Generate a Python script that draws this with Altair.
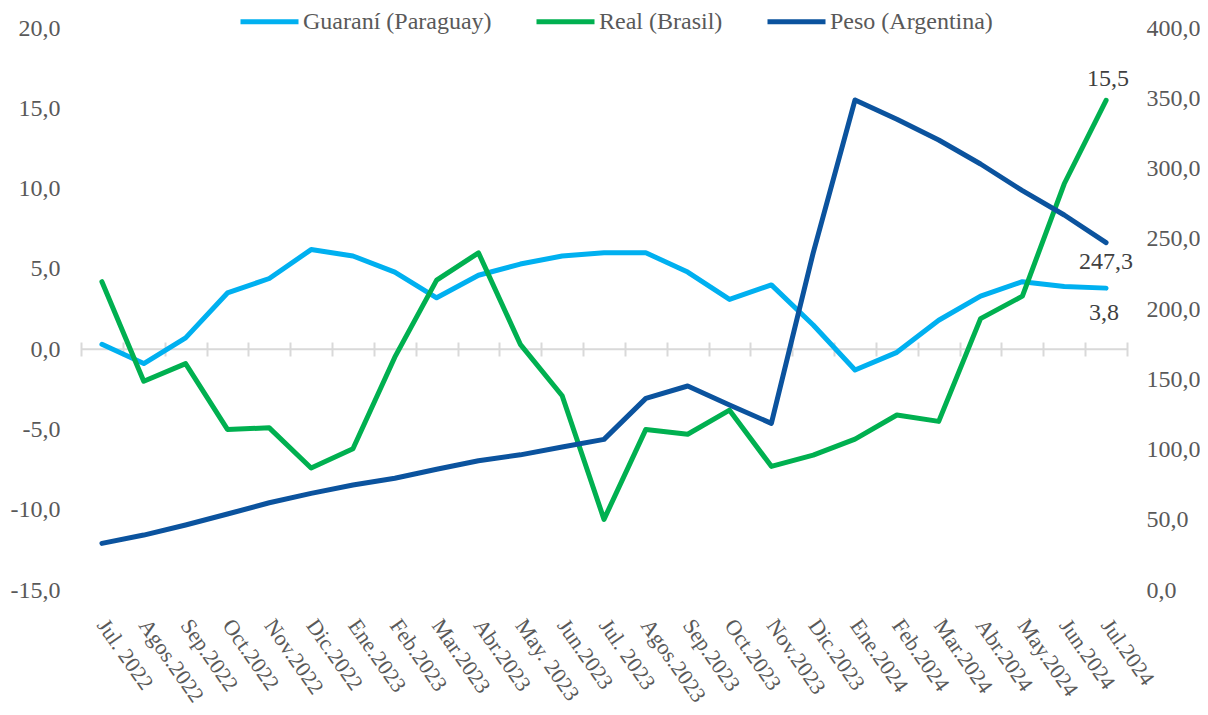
import altair as alt
import pandas as pd

months = ["Jul. 2022", "Agos.2022", "Sep.2022", "Oct.2022", "Nov.2022", "Dic.2022",
          "Ene.2023", "Feb.2023", "Mar.2023", "Abr.2023", "May. 2023", "Jun.2023",
          "Jul. 2023", "Agos.2023", "Sep.2023", "Oct.2023", "Nov.2023", "Dic.2023",
          "Ene.2024", "Feb.2024", "Mar.2024", "Abr.2024", "May.2024", "Jun.2024", "Jul.2024"]

guarani = [0.3, -0.9, 0.7, 3.5, 4.4, 6.2, 5.8, 4.8, 3.2, 4.6, 5.3, 5.8, 6.0, 6.0,
           4.8, 3.1, 4.0, 1.5, -1.3, -0.2, 1.8, 3.3, 4.2, 3.9, 3.8]
real = [4.2, -2.0, -0.9, -5.0, -4.9, -7.4, -6.2, -0.5, 4.3, 6.0, 0.3, -2.9, -10.6, -5.0,
        -5.3, -3.8, -7.3, -6.6, -5.6, -4.1, -4.5, 1.9, 3.3, 10.3, 15.5]
peso = [33.2, 39.1, 46.3, 54.1, 62.1, 68.8, 74.7, 79.5, 85.9, 92.0, 96.2, 101.8, 107.2, 136.4,
        145.2, 131.7, 118.6, 240.0, 348.8, 335.0, 320.3, 303.2, 284.2, 266.9, 247.3]

series_names = ["Guaraní (Paraguay)", "Real (Brasil)", "Peso (Argentina)"]
colors = ["#00B0F0", "#00B050", "#0B539E"]
left_ticks = [-15, -10, -5, 0, 5, 10, 15, 20]
right_ticks = [0, 50, 100, 150, 200, 250, 300, 350, 400]

rows = []
for name, vals in zip(series_names, [guarani, real, peso]):
    for m, v in zip(months, vals):
        rows.append({"mes": m, "serie": name, "valor": v})
df = pd.DataFrame(rows)

FONT = "Liberation Serif"
GRAY = "#595959"
W, H = 1046, 562
label_expr = "replace(replace(format(datum.value, '.1f'), '.', ','), '\u2212', '-')"

xscale = alt.Scale(type="band", paddingInner=0, paddingOuter=0)


def xenc(axis):
    return alt.X("mes:N", sort=months, scale=xscale, bandPosition=0.5, title=None, axis=axis)


color = alt.Color(
    "serie:N",
    scale=alt.Scale(domain=series_names, range=colors),
    legend=alt.Legend(
        title=None, orient="none", direction="horizontal", legendX=157, legendY=-38,
        symbolType="stroke", symbolSize=3364, symbolStrokeWidth=5, labelFont=FONT,
        labelFontSize=24, labelColor=GRAY, labelOffset=2, columnPadding=34, padding=0,
        labelLimit=400,
    ),
)

x_axis_labels = alt.Axis(
    labelAngle=55, labelAlign="left", labelBaseline="middle", labelPadding=31,
    labelFont=FONT, labelFontSize=22, labelColor=GRAY, domain=False, ticks=False,
    grid=False, labelOverlap=False,
)

left = alt.Chart(df).transform_filter(
    alt.FieldOneOfPredicate(field="serie", oneOf=series_names[:2])
).mark_line(strokeWidth=5, strokeCap="round", strokeJoin="round").encode(
    x=xenc(x_axis_labels),
    y=alt.Y("valor:Q", scale=alt.Scale(domain=[-15, 20]), title=None,
            axis=alt.Axis(values=left_ticks, labelExpr=label_expr, grid=False, domain=False,
                          ticks=False, labelPadding=21, labelFont=FONT, labelFontSize=24,
                          labelColor=GRAY)),
    color=color,
)

right = alt.Chart(df).transform_filter(
    alt.FieldEqualPredicate(field="serie", equal=series_names[2])
).mark_line(strokeWidth=5, strokeCap="round", strokeJoin="round").encode(
    x=xenc(None),
    y=alt.Y("valor:Q", scale=alt.Scale(domain=[0, 400]), title=None,
            axis=alt.Axis(orient="right", values=right_ticks, labelExpr=label_expr, grid=False,
                          domain=False, ticks=False, labelPadding=19, labelFont=FONT,
                          labelFontSize=24, labelColor=GRAY)),
    color=color,
)

zero_rule = alt.Chart(pd.DataFrame({"y": [0]})).mark_rule(color="#d9d9d9", strokeWidth=2).encode(
    y=alt.Y("y:Q", scale=alt.Scale(domain=[-15, 20]), axis=None)
)

tick_axis = alt.Chart(pd.DataFrame({"mes": months})).mark_point(opacity=0).encode(
    x=xenc(alt.Axis(orient="top", offset=-328, labels=False, domain=False, ticks=True,
                    tickBand="extent", tickSize=14, tickColor="#d9d9d9", tickWidth=2,
                    grid=False))
)

last = months[-1]


def end_label(name, dom, dx, dy):
    sub = df[(df["serie"] == name) & (df["mes"] == last)].copy()
    sub["txt"] = sub["valor"].map(lambda v: f"{v:.1f}".replace(".", ","))
    return alt.Chart(sub).mark_text(font=FONT, fontSize=24, color="#404040", dx=dx, dy=dy,
                                    baseline="middle", align="center").encode(
        x=xenc(None),
        y=alt.Y("valor:Q", scale=alt.Scale(domain=dom), axis=None),
        text="txt:N",
    )


lab_real = end_label(series_names[1], [-15, 20], 2, -21)
lab_peso = end_label(series_names[2], [0, 400], 0, 19)
lab_gua = end_label(series_names[0], [-15, 20], -2, 25)

chart = alt.layer(zero_rule, tick_axis, left, right, lab_real, lab_peso, lab_gua).resolve_scale(
    y="independent"
).resolve_axis(x="independent").properties(
    width=W, height=H,
    autosize=alt.AutoSizeParams(type="none"),
    padding={"left": 73, "top": 20, "right": 73, "bottom": 117},
).configure_view(stroke=None)

chart.save("out.html", embed_options={"renderer": "svg", "actions": False})
